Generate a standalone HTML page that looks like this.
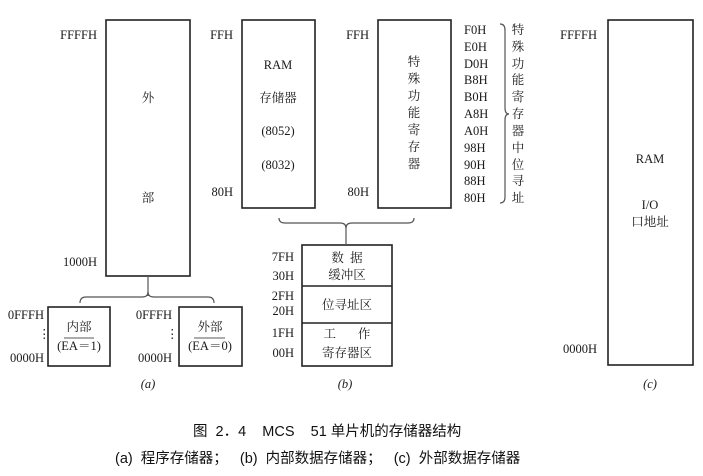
<!DOCTYPE html>
<html><head><meta charset="utf-8"><style>
html,body{margin:0;padding:0;background:#fff;width:703px;height:476px;overflow:hidden}
svg text{font-family:"Liberation Serif","Noto Serif CJK SC",serif;font-size:12.5px;fill:#1a1a1a}
.c{font-family:"Liberation Sans","Noto Sans CJK SC",sans-serif;font-size:14.5px;fill:#111}
</style></head><body>
<svg width="703" height="476" xmlns="http://www.w3.org/2000/svg">
<g fill="none" stroke="#222" stroke-width="1.6">
<rect x="106" y="20" width="84" height="256"/>
<rect x="48" y="307" width="62" height="59"/>
<rect x="179" y="307" width="63" height="59"/>
<rect x="242" y="20" width="73" height="188"/>
<rect x="378" y="20" width="73" height="188"/>
<rect x="302" y="245" width="90" height="121"/>
<line x1="302" y1="286" x2="392" y2="286"/>
<line x1="302" y1="323" x2="392" y2="323"/>
<rect x="608" y="20" width="85" height="345"/>
</g>
<g fill="none" stroke="#555" stroke-width="1.2">
<line x1="148" y1="276" x2="148" y2="296"/>
<path d="M80 303 Q80 297 86 297 L142 297 Q148 297 148 292 Q148 297 154 297 L208 297 Q214 297 214 303"/>
<line x1="346" y1="226" x2="346" y2="245"/>
<path d="M279 218 Q279 223 285 223 L340 223 Q346 223 346 228 Q346 223 352 223 L408 223 Q414 223 414 218"/>
<path d="M500 24 Q505 24 505 30 L505 108 Q505 114 509 114 Q505 114 505 120 L505 197 Q505 203 500 203"/>
</g>
<g text-anchor="end">
<text x="97" y="39">FFFFH</text>
<text x="97" y="266">1000H</text>
<text x="233" y="39">FFH</text>
<text x="233" y="196">80H</text>
<text x="369" y="39">FFH</text>
<text x="369" y="196">80H</text>
<text x="44" y="319">0FFFH</text>
<text x="44" y="362">0000H</text>
<text x="172" y="319">0FFFH</text>
<text x="172" y="362">0000H</text>
<text x="294" y="261">7FH</text>
<text x="294" y="280">30H</text>
<text x="294" y="300">2FH</text>
<text x="294" y="315">20H</text>
<text x="294" y="337">1FH</text>
<text x="294" y="357">00H</text>
<text x="597" y="39">FFFFH</text>
<text x="597" y="353">0000H</text>
</g>
<text x="38" y="338" font-size="10">⋮</text>
<text x="166" y="338" font-size="10">⋮</text>
<g text-anchor="middle">
<text x="148" y="102">外</text>
<text x="148" y="202">部</text>
<text x="79" y="331">内部</text>
<text x="79" y="350">(EA＝1)</text>
<line x1="64" y1="338" x2="94" y2="338" stroke="#222" stroke-width="0.8"/>
<text x="210" y="331">外部</text>
<text x="210" y="350">(EA＝0)</text>
<line x1="194" y1="338" x2="225" y2="338" stroke="#222" stroke-width="0.8"/>
<text x="278" y="69">RAM</text>
<text x="278" y="102">存储器</text>
<text x="278" y="135">(8052)</text>
<text x="278" y="169">(8032)</text>
<text x="414" y="66">特</text><text x="414" y="83">殊</text><text x="414" y="100">功</text>
<text x="414" y="117">能</text><text x="414" y="134">寄</text><text x="414" y="151">存</text><text x="414" y="168">器</text>
<text x="347" y="262" xml:space="preserve">数  据</text>
<text x="347" y="279">缓冲区</text>
<text x="347" y="309">位寻址区</text>
<text x="347" y="338" xml:space="preserve">工       作</text>
<text x="347" y="357">寄存器区</text>
<text x="650" y="163">RAM</text>
<text x="650" y="209">I/O</text>
<text x="650" y="226">口地址</text>
<text x="148" y="388" font-style="italic">(a)</text>
<text x="345" y="388" font-style="italic">(b)</text>
<text x="650" y="388" font-style="italic">(c)</text>
</g>
<g>
<text x="464" y="34">F0H</text><text x="464" y="51">E0H</text><text x="464" y="68">D0H</text>
<text x="464" y="84">B8H</text><text x="464" y="101">B0H</text><text x="464" y="118">A8H</text>
<text x="464" y="135">A0H</text><text x="464" y="152">98H</text><text x="464" y="169">90H</text>
<text x="464" y="185">88H</text><text x="464" y="202">80H</text>
</g>
<g text-anchor="middle">
<text x="518" y="34">特</text><text x="518" y="51">殊</text><text x="518" y="68">功</text>
<text x="518" y="84">能</text><text x="518" y="101">寄</text><text x="518" y="118">存</text>
<text x="518" y="135">器</text><text x="518" y="152">中</text><text x="518" y="169">位</text>
<text x="518" y="185">寻</text><text x="518" y="202">址</text>
</g>
<text class="c" x="193" y="436" xml:space="preserve">图  2．4    MCS    51 单片机的存储器结构</text>
<text class="c" x="115" y="463" xml:space="preserve">(a)  程序存储器；   (b)  内部数据存储器；   (c)  外部数据存储器</text>
</svg>
</body></html>
